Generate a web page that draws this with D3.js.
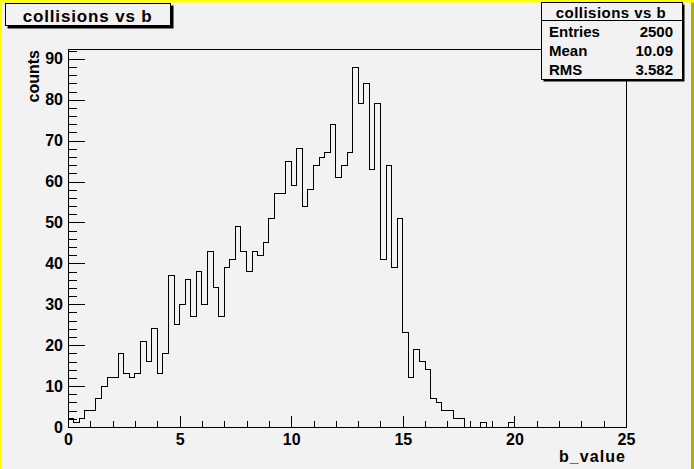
<!DOCTYPE html>
<html>
<head>
<meta charset="utf-8">
<script src="https://cdnjs.cloudflare.com/ajax/libs/d3/7.8.5/d3.min.js"></script>
<style>
  body { margin: 0; background: #f2f2f2; }
  svg { display: block; font-family: 'Liberation Sans', Arial, sans-serif; font-weight: bold; }
</style>
</head>
<body>
<div class="chart"></div>
<script>
// histogram contents, 100 bins of width 0.25 from 0 to 25
const counts = [
  2, 1, 2, 4, 4, 7, 10, 12, 12, 18,
  13, 12, 13, 21, 16, 24, 13, 18, 37, 25,
  30, 36, 27, 38, 30, 43, 34, 27, 39, 41,
  49, 43, 38, 43, 42, 45, 51, 57, 57, 65,
  59, 68, 54, 58, 64, 66, 67, 74, 61, 64,
  67, 88, 79, 84, 63, 79, 41, 64, 39, 51,
  23, 12, 19, 16, 14, 7, 6, 4, 4, 2,
  2, 0, 0, 0, 1, 0, 0, 0, 0, 1,
  0, 0, 0, 0, 0, 0, 0, 0, 0, 0,
  0, 0, 0, 0, 0, 0, 0, 0, 0, 0
]
const binWidth = 0.25
const xRange = [0, 25]
const xMajor = [0, 5, 10, 15, 20, 25]
const xMinor = d3.range(0, 26, 1)
const yMajor = [0, 10, 20, 30, 40, 50, 60, 70, 80, 90]
const yMinor = d3.range(0, 93, 2)
const titleText = 'collisions vs b'
const xTitle = 'b_value'
const yTitle = 'counts'
const statNames = ['Entries', 'Mean', 'RMS']
const statValues = ['2500', '10.09', '3.582']

const width = 694
const height = 469
const bg = '#f2f2f2'

const svg = d3.select('.chart')
  .append('svg')
  .attr('width', width)
  .attr('height', height)

svg.append('rect')
  .attr('width', width)
  .attr('height', height)
  .attr('fill', bg)

// canvas border (bevel)
svg.append('rect').attr('x', 0).attr('y', 0).attr('width', width).attr('height', 2.5).attr('fill', '#ffff00')
svg.append('rect').attr('x', 0).attr('y', 0).attr('width', 2).attr('height', height).attr('fill', '#ffff00')
svg.append('rect').attr('x', 691).attr('y', 2.5).attr('width', 3).attr('height', height).attr('fill', '#b0b000')

const xScale = d3.scaleLinear()
  .domain(xRange)
  .range([68, 626])

const yScale = d3.scaleLinear()
  .domain([0, d3.max(counts) * 1.05])
  .range([427, 49])

// frame
svg.append('rect')
  .attr('x', xScale(xRange[0]))
  .attr('y', yScale.range()[1])
  .attr('width', xScale(xRange[1]) - xScale(xRange[0]))
  .attr('height', yScale.range()[0] - yScale.range()[1])
  .attr('fill', bg)
  .attr('stroke', '#000')
  .attr('shape-rendering', 'crispEdges')

// histogram outline
const points = [[xRange[0], 0]]
counts.forEach((c, i) => points.push([i * binWidth, c]))
points.push([xRange[1], 0])

const line = d3.line()
  .x(d => xScale(d[0]))
  .y(d => yScale(d[1]))
  .curve(d3.curveStepAfter)

svg.append('path')
  .datum(points)
  .attr('d', line)
  .attr('fill', 'none')
  .attr('stroke', '#000')
  .attr('stroke-width', 1)
  .attr('shape-rendering', 'crispEdges')

// axes
const xAxisMinor = d3.axisBottom(xScale)
  .tickValues(xMinor.filter(v => !xMajor.includes(v)))
  .tickSize(-5.7)
  .tickFormat('')
const xAxis = d3.axisBottom(xScale)
  .tickValues(xMajor)
  .tickSize(-11.4)
  .tickPadding(6.5)
  .tickFormat(d3.format('d'))

const yAxisMinor = d3.axisLeft(yScale)
  .tickValues(yMinor.filter(v => !yMajor.includes(v)))
  .tickSize(-8.5)
  .tickFormat('')
const yAxis = d3.axisLeft(yScale)
  .tickValues(yMajor)
  .tickSize(-17)
  .tickPadding(5)
  .tickFormat(d3.format('d'))

;[[xAxisMinor, 'x'], [xAxis, 'x'], [yAxisMinor, 'y'], [yAxis, 'y']].forEach(([ax, k]) => {
  const g = svg.append('g')
    .attr('transform', k === 'x' ? 'translate(0,' + yScale(0) + ')' : 'translate(' + xScale(0) + ',0)')
    .call(ax)
  g.select('.domain').attr('stroke', '#000').attr('shape-rendering', 'crispEdges')
  g.selectAll('line').attr('stroke', '#000').attr('shape-rendering', 'crispEdges')
  g.selectAll('text')
    .attr('fill', '#000')
    .style('font-family', "'Liberation Sans', Arial, sans-serif")
    .style('font-weight', 'bold')
    .style('font-size', '16px')
})

// axis titles
svg.append('text')
  .attr('x', 625)
  .attr('y', 461.5)
  .attr('text-anchor', 'end')
  .attr('font-size', 16)
  .attr('textLength', 66)
  .attr('lengthAdjust', 'spacing')
  .text(xTitle)

svg.append('text')
  .attr('transform', 'translate(39,50) rotate(-90)')
  .attr('text-anchor', 'end')
  .attr('font-size', 16)
  .text(yTitle)

// title box
svg.append('rect')
  .attr('x', 7.5).attr('y', 5.5)
  .attr('width', 166).attr('height', 23)
  .attr('fill', '#000')
svg.append('rect')
  .attr('x', 5.5).attr('y', 3.5)
  .attr('width', 165).attr('height', 22)
  .attr('fill', bg)
  .attr('stroke', '#000')
svg.append('text')
  .attr('x', 22.7)
  .attr('y', 21.7)
  .attr('font-size', 17)
  .attr('textLength', 129)
  .attr('lengthAdjust', 'spacing')
  .text(titleText)

// stats box
svg.append('rect')
  .attr('x', 543.5).attr('y', 4.5)
  .attr('width', 141).attr('height', 77)
  .attr('fill', '#000')
svg.append('rect')
  .attr('x', 541.5).attr('y', 2.5)
  .attr('width', 141).attr('height', 77)
  .attr('fill', bg)
  .attr('stroke', '#000')
svg.append('line')
  .attr('x1', 541.5).attr('x2', 682.5)
  .attr('y1', 20.5).attr('y2', 20.5)
  .attr('stroke', '#000')
svg.append('text')
  .attr('x', 610.7)
  .attr('y', 17.7)
  .attr('text-anchor', 'middle')
  .attr('font-size', 15)
  .attr('textLength', 110)
  .attr('lengthAdjust', 'spacing')
  .text(titleText)

const statRow = svg.selectAll('.stat')
  .data(statNames)
  .enter()
  .append('g')
  .attr('class', 'stat')
  .attr('transform', (d, i) => 'translate(0,' + (37 + i * 19) + ')')

statRow.append('text')
  .attr('x', 549)
  .attr('font-size', 15)
  .text(d => d)

statRow.append('text')
  .attr('x', 673)
  .attr('text-anchor', 'end')
  .attr('font-size', 15)
  .text((d, i) => statValues[i])
</script>
</body>
</html>
